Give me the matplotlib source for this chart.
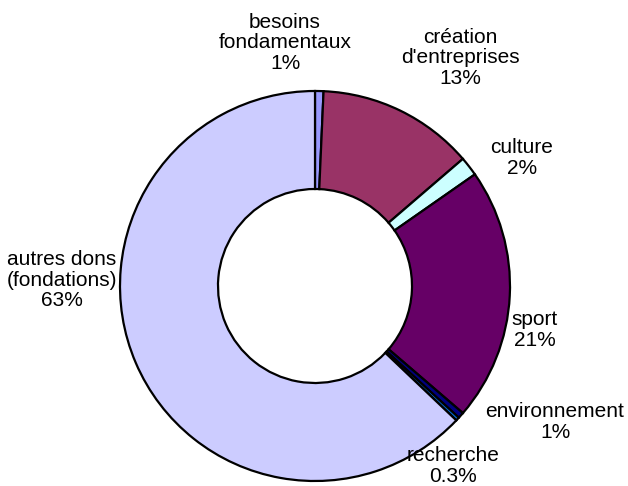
import matplotlib
matplotlib.use("Agg")
import matplotlib.pyplot as plt

plt.rcParams['font.family'] = ['Liberation Sans', 'DejaVu Sans']

# data (clockwise from 12 o'clock)
categories = ["besoins\nfondamentaux", "création\nd'entreprises", "culture", "sport",
              "environnement", "recherche", "autres dons\n(fondations)"]
values = [0.7, 13.0, 1.6, 21.0, 0.5, 0.3, 62.9]
pct_labels = ["1%", "13%", "2%", "21%", "1%", "0.3%", "63%"]

colors = ["#9999FF", "#993366", "#CCFFFF", "#660066", "#000080", "#0066CC", "#CCCCFF"]

# label centres in pixel coords (x, y from top)
label_pos = [(285, 43), (460, 58), (522, 158), (535, 330),
             (555, 422), (453, 466), (62, 280)]

W, H = 628, 486
fig = plt.figure(figsize=(W / 100, H / 100), dpi=100)
ax = fig.add_axes([0, 0, 1, 1])

ax.pie(values, colors=colors, startangle=90, counterclock=False,
       radius=195, center=(315, H - 286),
       wedgeprops=dict(width=98, edgecolor="black", linewidth=1.6))

for cat, pct, (x, y) in zip(categories, pct_labels, label_pos):
    ax.text(x, H - y, f"{cat}\n{pct}", ha="center", va="center",
            fontsize=15, linespacing=1.12, color="black")

ax.set_xlim(0, W)
ax.set_ylim(0, H)
ax.set_aspect("equal")
ax.axis("off")

fig.savefig("out.png", dpi=100, facecolor="white")
